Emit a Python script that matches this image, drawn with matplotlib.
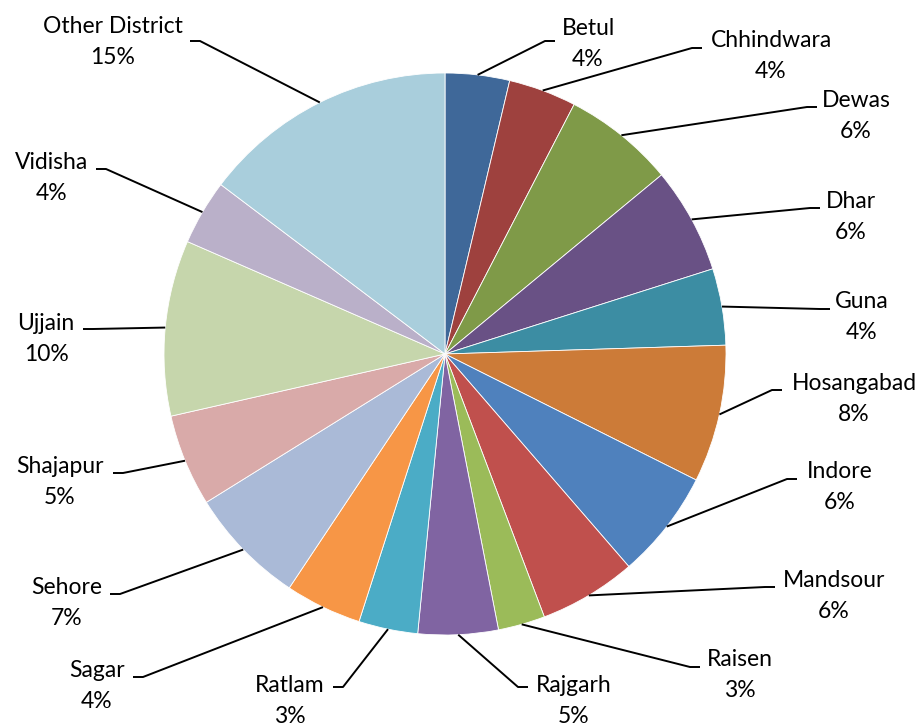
import numpy as np
import matplotlib
matplotlib.use("Agg")
from matplotlib import pyplot as plt

plt.rcParams['font.family'] = ['Lato', 'DejaVu Sans']

# district share (percent of total)
districts = ['Betul', 'Chhindwara', 'Dewas', 'Dhar', 'Guna', 'Hosangabad',
             'Indore', 'Mandsour', 'Raisen', 'Rajgarh', 'Ratlam', 'Sagar',
             'Sehore', 'Shajapur', 'Ujjain', 'Vidisha', 'Other District']
shares = [3.7, 3.9, 6.4, 6.1, 4.4, 7.9,
          6.25, 5.6, 2.7, 4.6, 3.4, 4.4,
          6.8, 5.3, 10.1, 3.75, 14.7]

colors = ['#3F6899', '#9E413E', '#7F9A48', '#695185', '#3C8DA3', '#CC7B38',
          '#4F81BD', '#C0504D', '#9BBB59', '#8064A2', '#4BACC6', '#F79646',
          '#AABAD7', '#D9AAA9', '#C6D6AC', '#BAB0C9', '#A9CEDC']

W, H = 924, 727
cx, cy, R = 445, H - 354, 281

# label layout in pixel coords (y from top): where the leader meets the
# label, and the centre of the two-line label block
anchor = [(555, 41), (702, 48), (817, 107), (820, 208), (830, 309),
          (782, 390), (797, 479), (775, 587), (700, 667), (528, 687),
          (333, 687), (133, 677), (110, 594), (113, 473), (83, 329),
          (96, 169), (190, 41)]
text_xy = [(588, 44), (771, 56), (856, 116), (851, 217), (862, 317),
           (854, 399), (840, 487), (834, 596), (740, 675), (574, 701),
           (290, 701), (97, 686), (67, 603), (60, 482), (46, 339),
           (52, 178), (113, 42)]

fig = plt.figure(figsize=(W / 100, H / 100), dpi=100)
ax = fig.add_axes([0, 0, 1, 1])

ax.pie(shares, colors=colors, startangle=90, counterclock=False,
       center=(cx, cy), radius=R,
       wedgeprops=dict(edgecolor='white', linewidth=0.6))
ax.set_xlim(0, W)
ax.set_ylim(0, H)
ax.set_aspect('equal')
ax.axis('off')

total = sum(shares)
cum = np.cumsum([0] + shares[:-1])
for i, name in enumerate(districts):
    mid = 90 - (cum[i] + shares[i] / 2) / total * 360
    ex = cx + R * np.cos(np.radians(mid))
    ey = cy + R * np.sin(np.radians(mid))
    axx, ayy = anchor[i]
    ayy = H - ayy
    # short horizontal stub next to the label
    elbow = axx - 10 if axx > ex else axx + 10
    ax.plot([ex, elbow, axx], [ey, ayy, ayy], color='black', lw=1.4,
            solid_capstyle='butt')
    tx, ty = text_xy[i]
    pct = shares[i] / total * 100
    ax.text(tx, H - ty, f'{name}\n{pct:.0f}%', ha='center', va='center',
            fontsize=16.5, linespacing=1.6, color='black')

fig.savefig('out.png', dpi=100)
